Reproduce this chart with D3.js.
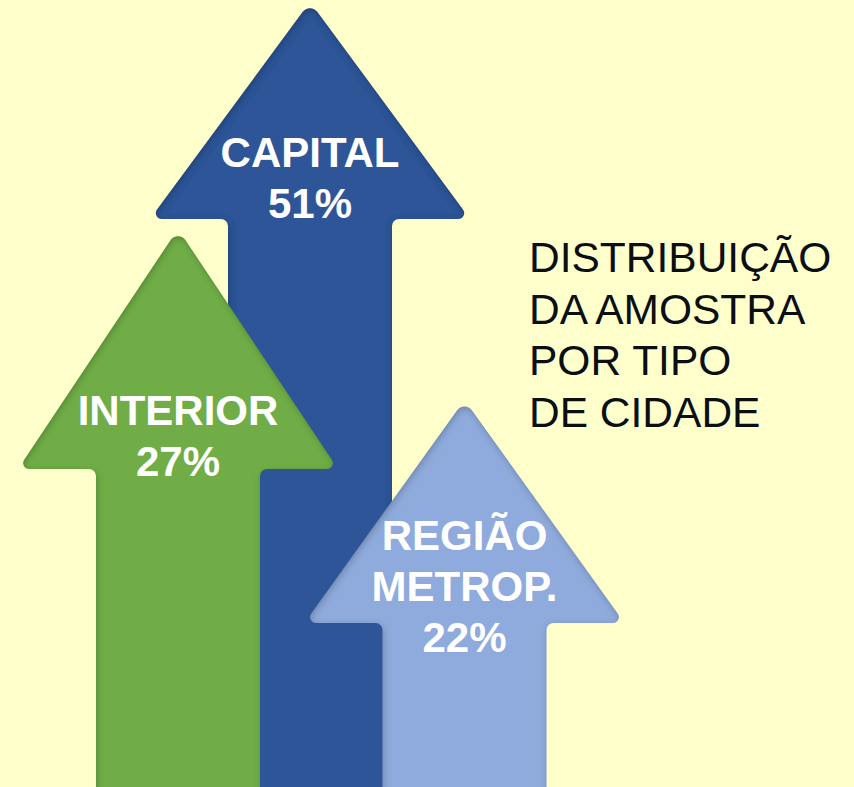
<!DOCTYPE html>
<html>
<head>
<meta charset="utf-8">
<script src="https://cdn.jsdelivr.net/npm/d3@7"></script>
<style>
  html, body { margin: 0; padding: 0; background: #FFFFCC; }
  svg { display: block; }
</style>
</head>
<body>
<div id="chart"></div>
<script>
// Data
const categories = ["CAPITAL", "INTERIOR", "REGIÃO METROP."];
const shares = [51, 27, 22];
const labelLines = [["CAPITAL"], ["INTERIOR"], ["REGIÃO", "METROP."]];
const titleLines = ["DISTRIBUIÇÃO", "DA AMOSTRA", "POR TIPO", "DE CIDADE"];

const width = 854, height = 787;
const colors = d3.scaleOrdinal().domain(categories).range(["#2F5597", "#70AD47", "#8FAADC"]);

const data = categories.map((c, i) => ({ cat: c, value: shares[i], lines: labelLines[i] }));

// Scales
// arrow tip height follows the share (infographic, not strictly proportional)
const tipY = d3.scaleLinear().domain([22, 27, 51]).range([400, 229, 2]);
const centerX = d3.scaleOrdinal().domain(categories).range([310, 178, 464.5]);
const headH = d3.scaleOrdinal().domain(categories).range([217, 240, 223]);
const labelBase = d3.scaleOrdinal().domain(categories).range([218, 476, 652]);

const headHalf = 160, shaftHalf = 82, lineH = 51;

const svg = d3.select("#chart").append("svg")
  .attr("width", width)
  .attr("height", height);

svg.append("rect").attr("width", width).attr("height", height).attr("fill", "#FFFFCC");

// inner shadow filter
const defs = svg.append("defs");
const f = defs.append("filter").attr("id", "inset")
  .attr("x", "-5%").attr("y", "-5%").attr("width", "110%").attr("height", "110%");
f.append("feGaussianBlur").attr("in", "SourceAlpha").attr("stdDeviation", 3.5).attr("result", "blur");
f.append("feOffset").attr("in", "blur").attr("dx", 1).attr("dy", 2).attr("result", "off");
f.append("feComposite").attr("in", "SourceAlpha").attr("in2", "off").attr("operator", "out").attr("result", "edge");
f.append("feFlood").attr("flood-color", "#000").attr("flood-opacity", 0.45);
f.append("feComposite").attr("in2", "edge").attr("operator", "in").attr("result", "shadow");
const m = f.append("feMerge");
m.append("feMergeNode").attr("in", "SourceGraphic");
m.append("feMergeNode").attr("in", "shadow");

function arrowPath(d) {
  const cx = centerX(d.cat), ty = tipY(d.value), by = ty + headH(d.cat);
  const bottom = height + 40;
  const p = d3.path();
  p.moveTo(cx, bottom);
  p.lineTo(cx + shaftHalf, bottom);
  p.arcTo(cx + shaftHalf, by, cx + headHalf, by, 7);
  p.arcTo(cx + headHalf, by, cx, ty, 6);
  p.arcTo(cx, ty, cx - headHalf, by, 9);
  p.arcTo(cx - headHalf, by, cx - shaftHalf, by, 6);
  p.arcTo(cx - shaftHalf, by, cx - shaftHalf, bottom, 7);
  p.lineTo(cx - shaftHalf, bottom);
  p.closePath();
  return p.toString();
}

// Arrows: capital behind, then interior and metrop on top
const arrows = svg.selectAll(".arrow")
  .data(data)
  .enter().append("g")
  .attr("class", "arrow");

arrows.append("path")
  .attr("d", arrowPath)
  .attr("fill", d => colors(d.cat))
  .attr("filter", "url(#inset)");

arrows.each(function(d) {
  const lines = d.lines.concat([d.value + "%"]);
  const last = labelBase(d.cat);
  d3.select(this).selectAll("text")
    .data(lines)
    .enter().append("text")
    .attr("x", centerX(d.cat))
    .attr("y", (t, i) => last - (lines.length - 1 - i) * lineH)
    .attr("text-anchor", "middle")
    .attr("fill", "#fff")
    .style("font-family", "'Liberation Sans', Arial, sans-serif")
    .style("font-weight", "bold")
    .style("font-size", "42px")
    .text(t => t);
});

// Title on the right
svg.append("g").selectAll("text")
  .data(titleLines)
  .enter().append("text")
  .attr("x", 529)
  .attr("y", (t, i) => 272 + i * 51.7)
  .attr("fill", "#0a0f14")
  .style("font-family", "'Liberation Sans', Arial, sans-serif")
  .style("font-size", "42.5px")
  .text(t => t);
</script>
</body>
</html>
